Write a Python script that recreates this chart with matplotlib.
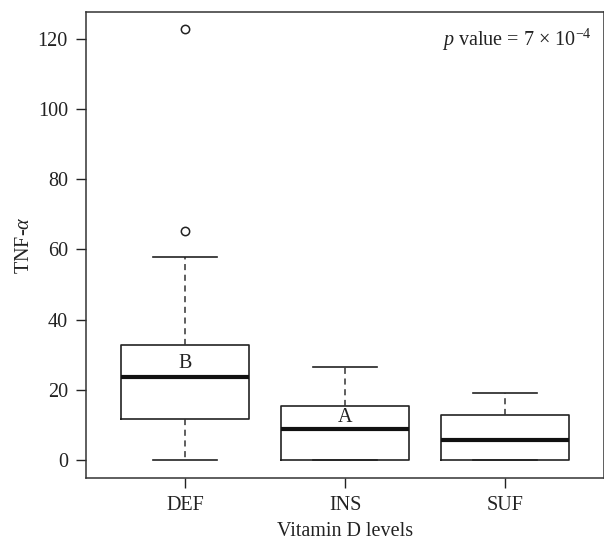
import numpy as np
import matplotlib
matplotlib.use("Agg")
import matplotlib.pyplot as plt

plt.rcParams['font.family'] = ['Liberation Serif', 'DejaVu Serif']
plt.rcParams['mathtext.fontset'] = 'custom'
plt.rcParams['mathtext.rm'] = 'Liberation Serif'
plt.rcParams['mathtext.it'] = 'Liberation Serif:italic'

groups = ['DEF', 'INS', 'SUF']
q1 = [11.7, 0.0, 0.0]
med = [23.7, 8.8, 5.6]
q3 = [32.8, 15.3, 12.7]
whislo = [0.0, 0.0, 0.0]
whishi = [57.8, 26.4, 19.2]
fliers = [[65.3, 122.8], [], []]
letters = ['B', 'A', '']
letter_y = [27.6, 12.2, 0]
yticks = [0, 20, 40, 60, 80, 100, 120]

stats = []
for i, g in enumerate(groups):
    stats.append(dict(label=g, q1=q1[i], med=med[i], q3=q3[i],
                      whislo=whislo[i], whishi=whishi[i], fliers=fliers[i]))

fs = 14.5
fig = plt.figure(figsize=(6.04, 5.43), dpi=100)
ax = fig.add_axes([86 / 604, 1 - 478 / 543, 518.4 / 604, 466 / 543])

ax.bxp(stats, positions=[1, 2, 3], widths=0.8, capwidths=0.4,
       boxprops=dict(color='#222222', linewidth=1.2),
       medianprops=dict(color='#111111', linewidth=3),
       whiskerprops=dict(color='#333333', linewidth=1.1, linestyle=(0, (4, 3))),
       capprops=dict(color='#222222', linewidth=1.2),
       flierprops=dict(marker='o', markersize=6, markerfacecolor='none',
                       markeredgecolor='#222222', markeredgewidth=1.1))

for i, t in enumerate(letters):
    if t:
        ax.text(i + 1, letter_y[i], t, ha='center', va='center', fontsize=fs, color='#222222')

ax.text(3.54, 119.7, r'$p$ value = 7 $\times$ 10$^{-4}$', ha='right', va='center',
        fontsize=fs, color='#222222')

ax.set_xlim(0.38, 3.62)
ax.set_ylim(-5.1, 127.6)
ax.set_yticks(yticks)
ax.set_xticks([1, 2, 3])
ax.set_xticklabels(groups)
ax.tick_params(direction='out', length=7, width=1, colors='#222222', labelsize=fs)
ax.tick_params(axis='y', pad=6)
ax.tick_params(axis='x', pad=6)
for s in ax.spines.values():
    s.set_color('#333333')
    s.set_linewidth(1.1)

ax.set_xlabel('Vitamin D levels', fontsize=fs, color='#222222', labelpad=5)
ax.set_ylabel(r'TNF-$\alpha$', fontsize=fs, color='#222222', labelpad=3)

fig.savefig('out.png', dpi=100)
